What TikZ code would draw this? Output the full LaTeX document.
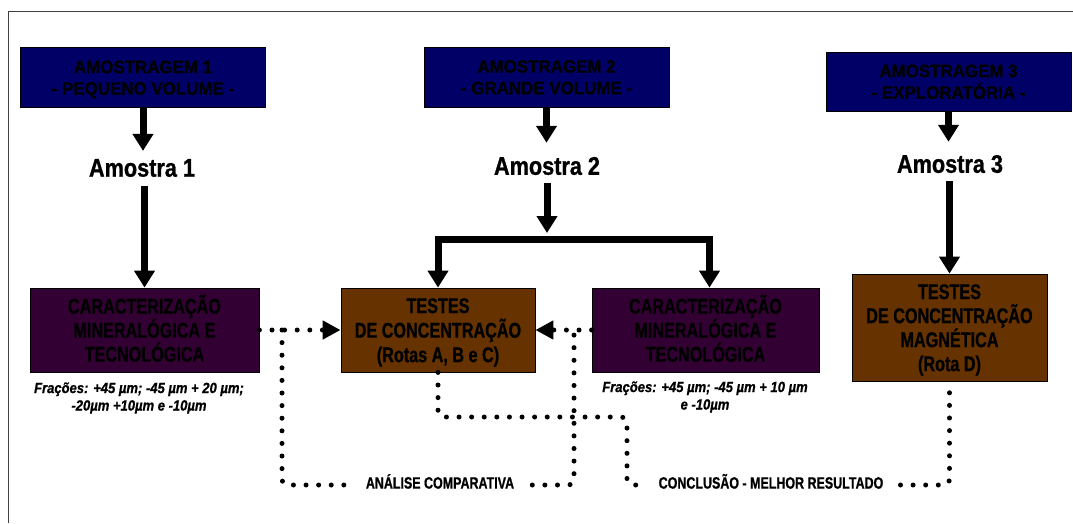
\documentclass[tikz,border=0pt]{standalone}
\usepackage{fontspec}
\setmainfont{Liberation Sans}
\newfontfamily\headfont[FakeStretch=0.94, BoldFeatures={FakeBold=0.8}]{Liberation Sans}
\newfontfamily\stepfont[FakeStretch=0.76, BoldFeatures={FakeBold=1}]{Liberation Sans}
\newfontfamily\samplefont[FakeStretch=0.85, BoldFeatures={FakeBold=1}]{Liberation Sans}
\newfontfamily\notefont[FakeStretch=0.88, BoldItalicFeatures={FakeBold=0.8}]{Liberation Sans}
\newfontfamily\linkfont[FakeStretch=0.76, BoldFeatures={FakeBold=0.8}]{Liberation Sans}
\usetikzlibrary{arrows.meta}
\definecolor{navybox}{RGB}{0,0,102}
\definecolor{plumbox}{RGB}{51,0,51}
\definecolor{rustbox}{RGB}{102,51,0}
\definecolor{framegray}{RGB}{64,64,64}
% struts that keep multi-line box text centred on its capitals
\newcommand\topstrut{\rule{0pt}{1.0em}}
\newcommand\botstrut{\rule[-0.284em]{0pt}{0.284em}}

\begin{document}
\begin{tikzpicture}[x=1pt,y=-1pt,
  box/.style={draw=black, line width=0.8pt, inner sep=0pt, align=center, text=black},
  headbox/.style={box, fill=navybox, minimum width=245pt, minimum height=60pt,
    font=\headfont\bfseries\fontsize{18}{21.6}\selectfont},
  charbox/.style={box, fill=plumbox, minimum height=84pt,
    font=\stepfont\bfseries\fontsize{21.3}{24}\selectfont},
  testbox/.style={box, fill=rustbox,
    font=\stepfont\bfseries\fontsize{21.3}{24.5}\selectfont},
  sample/.style={inner sep=0pt, font=\samplefont\bfseries\fontsize{25.5}{30}\selectfont},
  note/.style={inner sep=0pt, align=center,
    font=\notefont\bfseries\itshape\fontsize{14.8}{17.5}\selectfont},
  linklabel/.style={inner xsep=18pt, inner ysep=0pt, text height=0.72em, text depth=0pt,
    font=\linkfont\bfseries\fontsize{16.4}{19}\selectfont},
  flow/.style={line width=7pt, -{Triangle[width=20pt,length=17pt]}},
  dots/.style={line width=5pt, line cap=round, dash pattern=on 0pt off 12.6pt},
  dotarrow/.style={dots, -{Triangle[width=18pt,length=18pt]}},
]
\fill[white] (0,0) rectangle (1073,523);
\useasboundingbox (0,0) rectangle (1073,523);

% partial frame: top and left edges
\draw[framegray, line width=1.5pt] (8.5,523) -- (8.5,11.5) -- (1073,11.5);

% sampling campaigns
\node[headbox] (am1) at (143,77.5) {\topstrut AMOSTRAGEM 1\\- PEQUENO VOLUME -\botstrut};
\node[headbox] (am2) at (546.5,77) {\topstrut AMOSTRAGEM 2\\- GRANDE VOLUME -\botstrut};
\node[headbox, minimum height=59pt] (am3) at (948.5,81.5) {\topstrut AMOSTRAGEM 3\\- EXPLORATÓRIA -\botstrut};

% samples
\node[sample] (s1) at (142,168) {Amostra 1};
\node[sample] (s2) at (547,166) {Amostra 2};
\node[sample] (s3) at (950,164) {Amostra 3};

% characterisation and concentration tests
\node[charbox, minimum width=229pt] (c1) at (144.5,330) {\topstrut CARACTERIZAÇÃO\\MINERALÓGICA E\\TECNOLÓGICA\botstrut};
\node[testbox, minimum width=194pt, minimum height=84pt] (t1) at (438,330) {\topstrut TESTES\\DE CONCENTRAÇÃO\\(Rotas A, B e C)\botstrut};
\node[charbox, minimum width=227pt] (c2) at (705.5,330) {\topstrut CARACTERIZAÇÃO\\MINERALÓGICA E\\TECNOLÓGICA\botstrut};
\node[testbox, minimum width=195pt, minimum height=107pt, font=\stepfont\bfseries\fontsize{21.3}{24}\selectfont] (t2) at (949.5,327.5) {\topstrut TESTES\\DE CONCENTRAÇÃO\\MAGNÉTICA\\(Rota D)\botstrut};

% size fractions
\node[note] (n1) at (139,398) {Frações: +45 µm; -45 µm + 20 µm;\\-20µm +10µm e -10µm};
\node[note] (n2) at (705,397) {Frações: +45 µm; -45 µm + 10 µm\\e -10µm};

% main flow
\draw[flow, shorten >=8pt] (am1.south) -- (am1.south |- s1.north);
\draw[flow, shorten <=9pt] (s1.south -| c1.north) -- (c1.north);
\draw[flow, shorten >=14pt] (am2.south) -- (am2.south |- s2.north);
\coordinate (br) at (547,239);
\draw[flow, shorten <=8pt, shorten >=6pt] (s2.south) -- (br);
\draw[flow] (br) -| (t1.north);
\draw[flow] (br) -| ([xshift=4pt]c2.north);
\draw[flow, shorten >=13pt] (am3.south) -- (am3.south |- s3.north);
\draw[flow, shorten <=8pt] (s3.south -| t2.north) -- (t2.north);

% comparison and conclusion links
\coordinate (ja) at (282,330);
\coordinate (jb) at (574,330);
\coordinate (jc) at (627,417);
\draw[dotarrow] (c1.east) -- (t1.west);
\draw[dotarrow] (c2.west) -- (t1.east);
\node[linklabel] (ana) at (440,485) {ANÁLISE COMPARATIVA};
\draw[dots, rounded corners=6pt] (ja) |- (ana.west);
\draw[dots, rounded corners=6pt] (ana.east) -| (jb);
\node[linklabel, inner xsep=17pt] (con) at (771,485) {CONCLUSÃO - MELHOR RESULTADO};
\draw[dots, rounded corners=6pt] (t1.south) |- (jc) |- (con.west);
\draw[dots, rounded corners=6pt] (con.east) -| (t2.south);
\end{tikzpicture}
\end{document}
